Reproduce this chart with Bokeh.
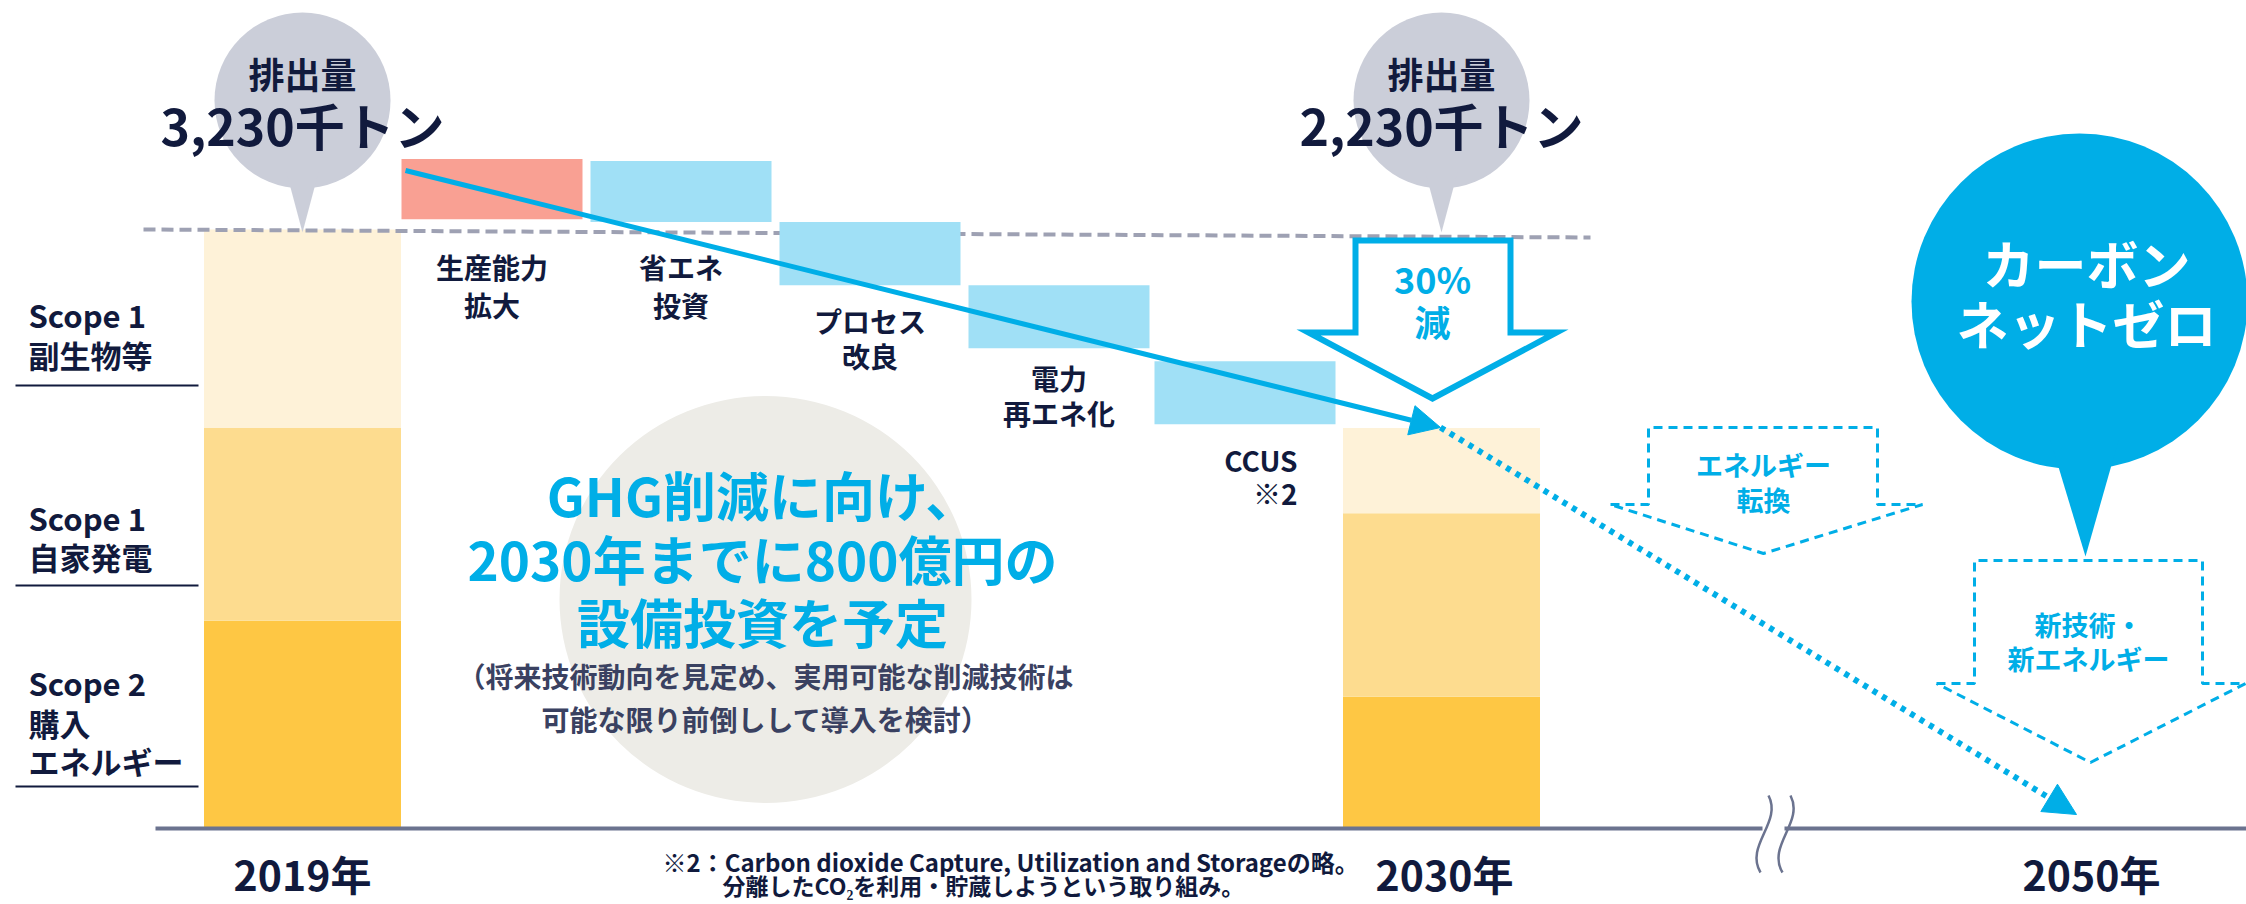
from bokeh.plotting import figure
from bokeh.models import Range1d, Arrow, NormalHead
from bokeh.embed import file_html
from bokeh.resources import INLINE
from bokeh.core.properties import value

# ---------------- data ----------------
years = ["2019年", "2030年", "2050年"]
emission_title = "排出量"
emission_totals = ["3,230千トン", "2,230千トン"]
scope_labels = [["Scope 1", "副生物等"], ["Scope 1", "自家発電"], ["Scope 2", "購入", "エネルギー"]]
# stacked emissions, thousand tonnes (2019, 2030)
scope2_purchased_energy = [1120, 710]
scope1_private_power = [1040, 990]
scope1_byproducts = [1070, 460]
# waterfall steps (thousand tonnes)
step_labels = [["生産能力", "拡大"], ["省エネ", "投資"], ["プロセス", "改良"], ["電力", "再エネ化"], ["CCUS", "※2"]]
step_tops = [3610, 3600, 3270, 2930, 2520]
step_bottoms = [3285, 3270, 2930, 2590, 2180]
step_kind = ["increase", "decrease", "decrease", "decrease", "decrease"]
reduction_text = ["30%", "減"]
message_lines = ["GHG削減に向け、", "2030年までに800億円の", "設備投資を予定"]
message_sub = ["（将来技術動向を見定め、実用可能な削減技術は", "可能な限り前倒しして導入を検討）"]
future_labels = [["エネルギー", "転換"], ["新技術・", "新エネルギー"]]
netzero_text = ["カーボン", "ネットゼロ"]
footnote = ["※2：Carbon dioxide Capture, Utilization and Storageの略。", "分離したCO₂を利用・貯蔵しようという取り組み。"]

# ---------------- layout / style ----------------
FONT = "Noto Sans CJK JP"
NAVY = "#111a3d"
SUBTXT = "#3a4161"
CYAN = "#00aee7"
LIGHTBLUE = "#a0e0f6"
SALMON = "#f9a093"
Y_LIGHT, Y_MID, Y_DARK = "#fef2d8", "#fddc8f", "#fec744"
GRAYBUB = "#cbced9"
AXIS = "#6b738f"

W, H = 2246, 904
BASE_PX, TOP_PX = 828, 229
PX_PER_KT = (BASE_PX - TOP_PX) / 3230.0


def ky(py):
    return (BASE_PX - py) / PX_PER_KT


def kh(h):
    return h / PX_PER_KT


p = figure(width=W, height=H, x_range=Range1d(0, W), y_range=Range1d(ky(H), ky(0)),
           output_backend="svg", toolbar_location=None, min_border=0)
p.axis.visible = False
p.grid.visible = False
p.outline_line_color = None
p.background_fill_color = "white"


def txt(x, py, s, size, color=NAVY, align="center", style="bold"):
    p.text(x=[x], y=[ky(py)], text=[s], text_font=value(FONT), text_font_style=style,
           text_font_size=f"{size}px", text_color=color, text_align=align, text_baseline="middle")


# background grey circle for the message
p.ellipse(x=[765], y=[ky(599)], width=412, height=kh(407), fill_color="#edece7", line_color=None)

# stacked bars
bar_x = [302, 1441]
bar_w = 197
b1 = scope2_purchased_energy
b2 = [a + b for a, b in zip(b1, scope1_private_power)]
b3 = [a + b for a, b in zip(b2, scope1_byproducts)]
p.vbar(x=bar_x, bottom=[0, 0], top=b1, width=bar_w, fill_color=Y_DARK, line_color=None)
p.vbar(x=bar_x, bottom=b1, top=b2, width=bar_w, fill_color=Y_MID, line_color=None)
p.vbar(x=bar_x, bottom=b2, top=b3, width=bar_w, fill_color=Y_LIGHT, line_color=None)

# dashed reference line at 2019 level
p.line(x=[143, 1590], y=[ky(229), ky(237)], line_color="#9ea1b3", line_width=4, line_dash="12 6")

# waterfall boxes
step_left = [401, 590, 779, 968, 1154]
step_w = 181
step_x = [l + step_w / 2 for l in step_left]
colors = [SALMON if k == "increase" else LIGHTBLUE for k in step_kind]
p.vbar(x=step_x, bottom=step_bottoms, top=step_tops, width=step_w, fill_color=colors, line_color=None)

# step labels
label_rows = [(266, 304), (266, 304), (320, 355), (377, 412), (459, 492)]
for i, (lines, rows) in enumerate(zip(step_labels, label_rows)):
    if i == 4:
        for s, r in zip(lines, rows):
            txt(1297, r, s, 28, align="right")
    else:
        for s, r in zip(lines, rows):
            txt(step_x[i], r, s, 28)

# speech bubbles (emission totals)
for cx, tot in zip(bar_x, emission_totals):
    p.ellipse(x=[cx], y=[ky(100)], width=176, height=kh(176), fill_color=GRAYBUB, line_color=None)
    p.patch(x=[cx - 16, cx + 16, cx], y=[ky(172), ky(172), ky(232)], fill_color=GRAYBUB, line_color=None)
    txt(cx, 72, emission_title, 36)
    txt(cx, 123, tot, 50)

# hollow 30% arrow
ax = 1432
p.patch(x=[ax - 77, ax + 78, ax + 78, ax + 124, ax, ax - 124, ax - 77],
        y=[ky(240), ky(240), ky(332), ky(332), ky(398), ky(332), ky(332)],
        fill_color="white", line_color=CYAN, line_width=6, line_join="miter")
txt(ax, 277, reduction_text[0], 36, CYAN)
txt(ax, 320, reduction_text[1], 36, CYAN)

# trend arrows
p.add_layout(Arrow(x_start=405, y_start=ky(170), x_end=1440, y_end=ky(427), line_color=CYAN, line_width=5,
                   end=NormalHead(size=30, fill_color=CYAN, line_color=CYAN, line_width=1)))
p.add_layout(Arrow(x_start=1440, y_start=ky(427), x_end=2076, y_end=ky(814), line_color=CYAN, line_width=6,
                   line_dash="5 6",
                   end=NormalHead(size=32, fill_color=CYAN, line_color=CYAN, line_width=1)))

# dashed future arrows
def dashed_arrow(xl, xr, wl, wr, top, sh, tipx, tipy):
    p.line(x=[wl, xl, xl, xr, xr, wr, tipx, wl],
           y=[ky(sh), ky(sh), ky(top), ky(top), ky(sh), ky(sh), ky(tipy), ky(sh)],
           line_color=CYAN, line_width=3, line_dash="9 6")

dashed_arrow(1648, 1877, 1610, 1922, 427, 504, 1763, 553)
txt(1763, 464, future_labels[0][0], 27, CYAN)
txt(1763, 499, future_labels[0][1], 27, CYAN)
dashed_arrow(1974, 2202, 1936, 2245, 560, 683, 2090, 762)
txt(2088, 624, future_labels[1][0], 27, CYAN)
txt(2088, 658, future_labels[1][1], 27, CYAN)

# carbon net zero bubble
p.ellipse(x=[2079], y=[ky(301)], width=336, height=kh(336), fill_color=CYAN, line_color=None)
p.patch(x=[2050, 2118, 2085], y=[ky(440), ky(440), ky(556)], fill_color=CYAN, line_color=None)
txt(2086, 262, netzero_text[0], 52, "white")
txt(2086, 322, netzero_text[1], 52, "white")

# baseline axis with break
p.segment(x0=[155], y0=[0], x1=[2246], y1=[0], line_color=AXIS, line_width=4)
p.quad(left=[1762], right=[1784], bottom=[ky(832)], top=[ky(824)], fill_color="white", line_color=None)
for dx in (0, 22):
    p.bezier(x0=[1768 + dx], y0=[ky(795)], x1=[1760 + dx], y1=[ky(872)],
             cx0=[1782 + dx], cy0=[ky(822)], cx1=[1744 + dx], cy1=[ky(845)],
             line_color=AXIS, line_width=2.5)

# scope labels on the left
scope_rows = [[314, 354], [517, 556], [682, 722, 760]]
underline_y = [385, 585, 786]
for lines, rows in zip(scope_labels, scope_rows):
    for s, r in zip(lines, rows):
        txt(28, r, s, 31, align="left")
p.segment(x0=[15] * 3, y0=[ky(v) for v in underline_y], x1=[198] * 3, y1=[ky(v) for v in underline_y],
          line_color=NAVY, line_width=2)

# year labels
for xx, yl in zip([302, 1444, 2091], years):
    txt(xx, 872, yl, 41)

# central message
for s, r in zip(message_lines, [493, 557, 620]):
    txt(762, r, s, 53, CYAN)
for s, r in zip(message_sub, [675, 718]):
    txt(765, r, s, 28, SUBTXT)

# footnote
txt(662, 861, footnote[0], 24, align="left")
txt(722, 884, footnote[1], 23, align="left")

open("out.html", "w").write(file_html(p, INLINE))
